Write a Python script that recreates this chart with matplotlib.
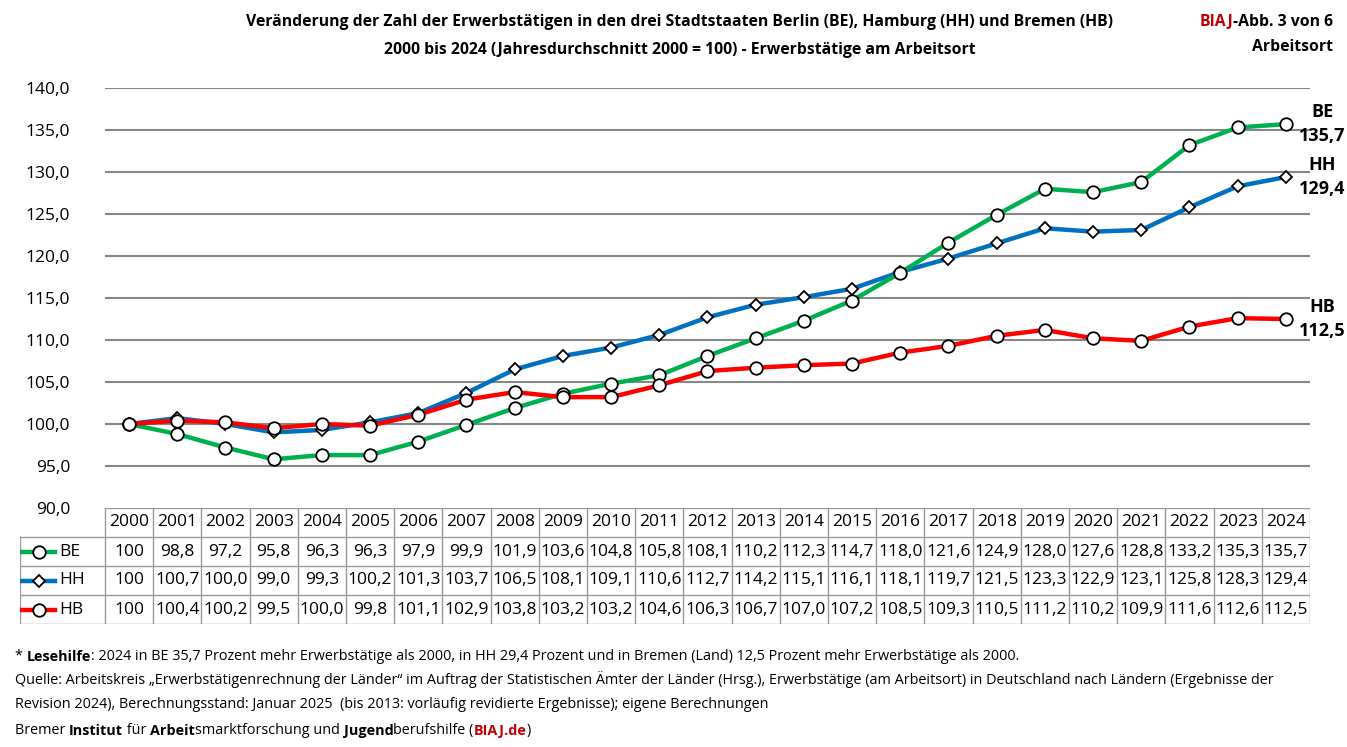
import numpy as np
import matplotlib
matplotlib.use("Agg")
import matplotlib.pyplot as plt
from matplotlib import font_manager

# font: narrow sans as stand-in for Calibri
try:
    font_manager.findfont("Liberation Sans Narrow", fallback_to_default=False)
    FONT = "Liberation Sans Narrow"
except Exception:
    FONT = "Open Sans"
plt.rcParams['font.family'] = [FONT, 'DejaVu Sans']

# ======================================
# Data
# ======================================
years = list(range(2000, 2025))
be = [100, 98.8, 97.2, 95.8, 96.3, 96.3, 97.9, 99.9, 101.9, 103.6, 104.8, 105.8, 108.1,
      110.2, 112.3, 114.7, 118.0, 121.6, 124.9, 128.0, 127.6, 128.8, 133.2, 135.3, 135.7]
hh = [100, 100.7, 100.0, 99.0, 99.3, 100.2, 101.3, 103.7, 106.5, 108.1, 109.1, 110.6, 112.7,
      114.2, 115.1, 116.1, 118.1, 119.7, 121.5, 123.3, 122.9, 123.1, 125.8, 128.3, 129.4]
hb = [100, 100.4, 100.2, 99.5, 100.0, 99.8, 101.1, 102.9, 103.8, 103.2, 103.2, 104.6, 106.3,
      106.7, 107.0, 107.2, 108.5, 109.3, 110.5, 111.2, 110.2, 109.9, 111.6, 112.6, 112.5]
names = ['BE', 'HH', 'HB']
series = [be, hh, hb]
colors = ['#00B050', '#0070C0', '#FF0000']
markers = ['o', 'D', 'o']
msizes = [9, 6.5, 9]
zorders = [4, 3, 5]

W, H = 1347, 747
fig = plt.figure(figsize=(W / 100, H / 100), dpi=100)

def fx(px):
    return px / W

def fy(py):
    return 1 - py / H

# ======================================
# Main chart
# ======================================
left_px, right_px, top_px, bot_px = 105, 1310, 88, 508
ax = fig.add_axes([fx(left_px), fy(bot_px), fx(right_px - left_px), (bot_px - top_px) / H])
x = np.arange(len(years))
for s, c, m, ms, z in zip(series, colors, markers, msizes, zorders):
    ax.plot(x, s, color=c, lw=3.2, marker=m, ms=ms, mfc='white', mec='black',
            mew=1.3, zorder=z, solid_joinstyle='round')
ax.set_xlim(-0.5, len(years) - 0.5)
ax.set_ylim(90, 140)
yt = np.arange(90, 141, 5)
ax.set_yticks(yt)
ax.set_yticklabels([f"{v:.1f}".replace('.', ',') for v in yt], fontsize=12.5)
ax.set_xticks([])
for v in yt[1:]:
    ax.axhline(v, color='#878787', lw=1.5, zorder=1)
for sp in ax.spines.values():
    sp.set_visible(False)
ax.tick_params(axis='y', length=0, pad=25)

# end labels
for n, s in zip(names, series):
    lab = f"{s[-1]:.1f}".replace('.', ',')
    ax.text(len(years) - 0.5 + 0.25, s[-1], n + "\n" + lab, ha='center', va='center',
            fontsize=13, fontweight='bold', linespacing=1.4, clip_on=False)

# ======================================
# Table
# ======================================
tab_left_px, tab_bot_px = 20, 624
unit = (right_px - left_px) / len(years)
x0 = -0.5 - (left_px - tab_left_px) / unit
tax = fig.add_axes([fx(tab_left_px), fy(tab_bot_px), fx(right_px - tab_left_px),
                    (tab_bot_px - bot_px) / H])
tax.set_xlim(x0, len(years) - 0.5)
tax.set_ylim(4, 0)
tax.axis('off')
gc = '#9A9A9A'
tax.plot([-0.5, len(years) - 0.5], [0, 0], color=gc, lw=1)
for r in [1, 2, 3, 4]:
    tax.plot([x0, len(years) - 0.5], [r, r], color=gc, lw=1)
tax.plot([x0, x0], [1, 4], color=gc, lw=1)
for i in range(len(years) + 1):
    tax.plot([i - 0.5, i - 0.5], [0, 4], color=gc, lw=1)
tfs = 12.5
for i, yv in enumerate(years):
    tax.text(i, 0.5, str(yv), ha='center', va='center', fontsize=tfs)
for r, (n, s, c, m, ms) in enumerate(zip(names, series, colors, markers, msizes)):
    yy = r + 1.5
    for i, v in enumerate(s):
        lab = "100" if i == 0 else f"{v:.1f}".replace('.', ',')
        tax.text(i, yy, lab, ha='center', va='center', fontsize=tfs)
    lx = [x0 + 0.05, x0 + 0.72]
    tax.plot(lx, [yy, yy], color=c, lw=3.2)
    tax.plot([np.mean(lx)], [yy], marker=m, ms=ms, mfc='white', mec='black', mew=1.3,
             color=c)
    tax.text(x0 + 0.82, yy, n, ha='left', va='center', fontsize=tfs)

# ======================================
# Titles
# ======================================
tfs_title = 11.3
fig.text(fx(680), fy(22), "Veränderung der Zahl der Erwerbstätigen in den drei Stadtstaaten Berlin (BE), Hamburg (HH) und Bremen (HB)",
         ha='center', va='center', fontsize=tfs_title, fontweight='bold')
fig.text(fx(680), fy(50), "2000 bis 2024 (Jahresdurchschnitt 2000 = 100) - Erwerbstätige am Arbeitsort",
         ha='center', va='center', fontsize=tfs_title, fontweight='bold')
t1 = fig.text(fx(1333), fy(22), "-Abb. 3 von 6", ha='right', va='center', fontsize=tfs_title,
              fontweight='bold')
ax.annotate("BIAJ", xy=(0, 0.5), xycoords=t1, ha='right', va='center', fontsize=tfs_title,
            fontweight='bold', color='#C00000', annotation_clip=False)
fig.text(fx(1333), fy(47), "Arbeitsort", ha='right', va='center', fontsize=tfs_title,
         fontweight='bold')

# ======================================
# Footer with mixed bold
# ======================================
def rich_line(parts, xpx, ypx, fs=10.4):
    prev = fig.text(fx(xpx), fy(ypx), parts[0][0], ha='left', va='bottom', fontsize=fs,
                    fontweight=parts[0][1], color=parts[0][2])
    for txt, wt, col in parts[1:]:
        prev = ax.annotate(txt, xy=(1, 0), xycoords=prev, ha='left', va='bottom',
                           fontsize=fs, fontweight=wt, color=col, annotation_clip=False)

k, n_, r_ = 'black', 'normal', 'bold'
rich_line([("* ", n_, k), ("Lesehilfe", r_, k),
           (": 2024 in BE 35,7 Prozent mehr Erwerbstätige als 2000, in HH 29,4 Prozent und in Bremen (Land) 12,5 Prozent mehr Erwerbstätige als 2000.", n_, k)],
          15, 664)
rich_line([("Quelle: Arbeitskreis „Erwerbstätigenrechnung der Länder“ im Auftrag der Statistischen Ämter der Länder (Hrsg.), Erwerbstätige (am Arbeitsort) in Deutschland nach Ländern (Ergebnisse der", n_, k)],
          15, 688)
rich_line([("Revision 2024), Berechnungsstand: Januar 2025  (bis 2013: vorläufig revidierte Ergebnisse); eigene Berechnungen", n_, k)],
          15, 712)
rich_line([("Bremer ", n_, k), ("Institut", r_, k), (" für ", n_, k), ("Arbeit", r_, k),
           ("smarktforschung und ", n_, k), ("Jugend", r_, k), ("berufshilfe (", n_, k),
           ("BIAJ.de", r_, '#C00000'), (")", n_, k)],
          15, 738)

fig.savefig("out.png", dpi=100)
